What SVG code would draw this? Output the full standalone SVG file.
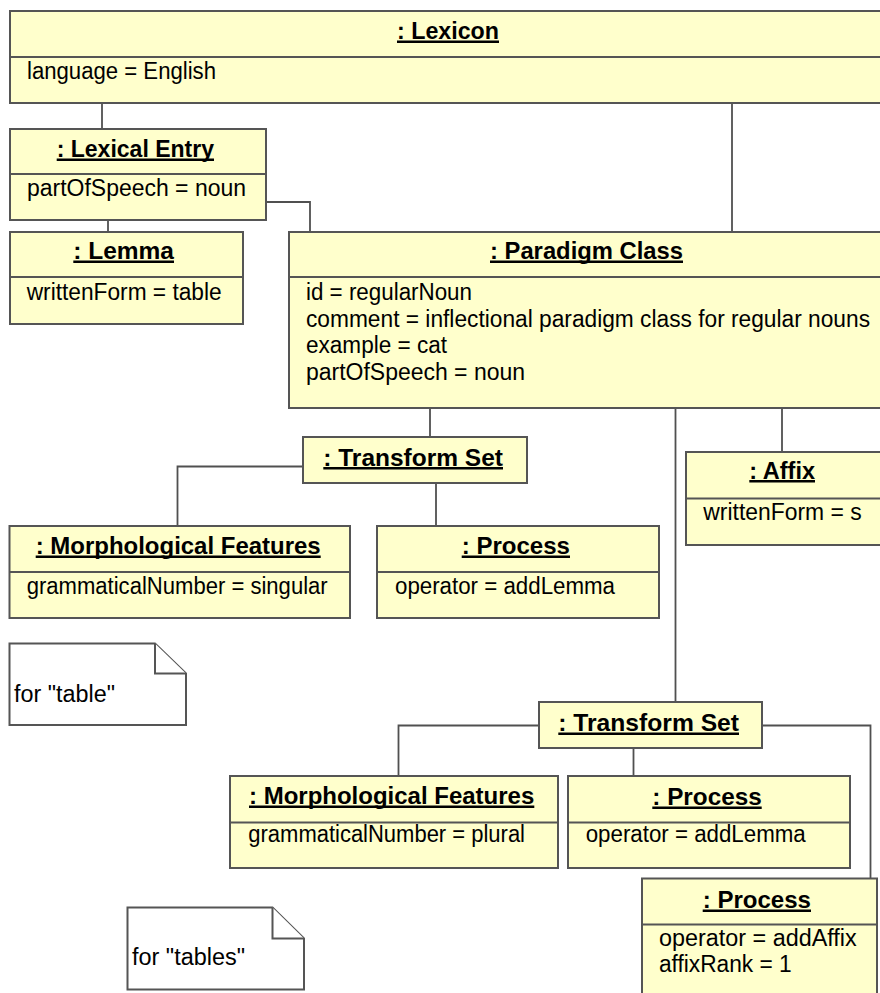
<svg xmlns="http://www.w3.org/2000/svg" width="880" height="993" viewBox="0 0 880 993">
  <style>
    .box { fill: #ffffcc; stroke: #555555; stroke-width: 2; }
    .note { fill: #ffffff; stroke: #555555; stroke-width: 2; stroke-linejoin: miter; }
    .sep { stroke: #555555; stroke-width: 2; }
    .conn { fill: none; stroke: #505050; stroke-width: 1.8; }
    .title { font-family: "Liberation Sans", Arial, sans-serif; font-size: 24px; font-weight: bold; fill: #000000; }
    .attr { font-family: "Liberation Sans", Arial, sans-serif; font-size: 23px; fill: #000000; }
    .ul { fill: #000000; }
  </style>

  <rect width="880" height="993" fill="#ffffff"/>

  <!-- associations between objects -->
  <g id="connectors">
    <path class="conn" d="M102,103 V129"/>
    <path class="conn" d="M732,103 V232"/>
    <path class="conn" d="M108,220 V232"/>
    <path class="conn" d="M266,202 H310 V232"/>
    <path class="conn" d="M430,408 V437"/>
    <path class="conn" d="M675.5,408 V702"/>
    <path class="conn" d="M782,408 V452"/>
    <path class="conn" d="M303,466.5 H177.5 V526"/>
    <path class="conn" d="M436,483 V526"/>
    <path class="conn" d="M539,725.5 H398.5 V776"/>
    <path class="conn" d="M633.5,748 V776"/>
    <path class="conn" d="M762,725.5 H870.5 V878.5"/>
  </g>

  <g id="lexicon">
    <rect class="box" x="10" y="11" width="890" height="92"/>
    <line class="sep" x1="10" y1="57" x2="900" y2="57"/>
    <text class="title" x="397" y="39" textLength="102" lengthAdjust="spacingAndGlyphs">: Lexicon</text>
    <rect class="ul" x="397" y="40.5" width="102" height="2.5"/>
    <text class="attr" x="27" y="79" textLength="189" lengthAdjust="spacingAndGlyphs">language = English</text>
  </g>

  <g id="lexical-entry">
    <rect class="box" x="10" y="129" width="256" height="91"/>
    <line class="sep" x1="10" y1="174" x2="266" y2="174"/>
    <text class="title" x="56.7" y="157" textLength="157.3" lengthAdjust="spacingAndGlyphs">: Lexical Entry</text>
    <rect class="ul" x="56.7" y="158.5" width="157.3" height="2.5"/>
    <text class="attr" x="27" y="196" textLength="219" lengthAdjust="spacingAndGlyphs">partOfSpeech = noun</text>
  </g>

  <g id="lemma">
    <rect class="box" x="10" y="232" width="233" height="92"/>
    <line class="sep" x1="10" y1="277" x2="243" y2="277"/>
    <text class="title" x="73.3" y="259" textLength="100.7" lengthAdjust="spacingAndGlyphs">: Lemma</text>
    <rect class="ul" x="73.3" y="260.5" width="100.7" height="2.5"/>
    <text class="attr" x="26.7" y="300" textLength="195" lengthAdjust="spacingAndGlyphs">writtenForm = table</text>
  </g>

  <g id="paradigm-class">
    <rect class="box" x="289" y="232" width="611" height="176"/>
    <line class="sep" x1="289" y1="277" x2="900" y2="277"/>
    <text class="title" x="490" y="259" textLength="193" lengthAdjust="spacingAndGlyphs">: Paradigm Class</text>
    <rect class="ul" x="490" y="260.5" width="193" height="2.5"/>
    <text class="attr" x="306" y="300" textLength="166" lengthAdjust="spacingAndGlyphs">id = regularNoun</text>
    <text class="attr" x="306" y="326.5" textLength="564" lengthAdjust="spacingAndGlyphs">comment = inflectional paradigm class for regular nouns</text>
    <text class="attr" x="306" y="353" textLength="141" lengthAdjust="spacingAndGlyphs">example = cat</text>
    <text class="attr" x="306" y="379.5" textLength="219" lengthAdjust="spacingAndGlyphs">partOfSpeech = noun</text>
  </g>

  <g id="transform-set-1">
    <rect class="box" x="303" y="437" width="224" height="46"/>
    <text class="title" x="323.3" y="465.5" textLength="179.7" lengthAdjust="spacingAndGlyphs">: Transform Set</text>
    <rect class="ul" x="323.3" y="467" width="179.7" height="2.5"/>
  </g>

  <g id="morph-features-1">
    <rect class="box" x="9.5" y="526" width="340.5" height="92"/>
    <line class="sep" x1="9.5" y1="572" x2="350" y2="572"/>
    <text class="title" x="35.7" y="554" textLength="285" lengthAdjust="spacingAndGlyphs">: Morphological Features</text>
    <rect class="ul" x="35.7" y="555.5" width="285" height="2.5"/>
    <text class="attr" x="26.7" y="593.5" textLength="301" lengthAdjust="spacingAndGlyphs">grammaticalNumber = singular</text>
  </g>

  <g id="process-1">
    <rect class="box" x="377" y="526" width="282" height="92"/>
    <line class="sep" x1="377" y1="572" x2="659" y2="572"/>
    <text class="title" x="461.7" y="554" textLength="108.3" lengthAdjust="spacingAndGlyphs">: Process</text>
    <rect class="ul" x="461.7" y="555.5" width="108.3" height="2.5"/>
    <text class="attr" x="395" y="593.5" textLength="220" lengthAdjust="spacingAndGlyphs">operator = addLemma</text>
  </g>

  <g id="affix">
    <rect class="box" x="686" y="452" width="214" height="93"/>
    <line class="sep" x1="686" y1="498.5" x2="900" y2="498.5"/>
    <text class="title" x="749.3" y="478.5" textLength="65.7" lengthAdjust="spacingAndGlyphs">: Affix</text>
    <rect class="ul" x="749.3" y="480" width="65.7" height="2.5"/>
    <text class="attr" x="703.3" y="519.5" textLength="158.4" lengthAdjust="spacingAndGlyphs">writtenForm = s</text>
  </g>

  <g id="note-table">
    <path class="note" d="M9.5,643.5 H155 L186,673.5 V725 H9.5 Z"/>
    <path class="note" d="M155,643.5 V673.5 H186"/>
    <text class="attr" x="14" y="702" textLength="101" lengthAdjust="spacingAndGlyphs">for "table"</text>
  </g>

  <g id="transform-set-2">
    <rect class="box" x="539" y="702" width="223" height="46"/>
    <text class="title" x="558.3" y="731" textLength="180.7" lengthAdjust="spacingAndGlyphs">: Transform Set</text>
    <rect class="ul" x="558.3" y="732.5" width="180.7" height="2.5"/>
  </g>

  <g id="morph-features-2">
    <rect class="box" x="230" y="776" width="328" height="92"/>
    <line class="sep" x1="230" y1="822.5" x2="558" y2="822.5"/>
    <text class="title" x="249" y="804" textLength="285.3" lengthAdjust="spacingAndGlyphs">: Morphological Features</text>
    <rect class="ul" x="249" y="805.5" width="285.3" height="2.5"/>
    <text class="attr" x="248.3" y="842" textLength="276.7" lengthAdjust="spacingAndGlyphs">grammaticalNumber = plural</text>
  </g>

  <g id="process-2">
    <rect class="box" x="568" y="776" width="282" height="92"/>
    <line class="sep" x1="568" y1="822.5" x2="850" y2="822.5"/>
    <text class="title" x="652.3" y="805" textLength="109.4" lengthAdjust="spacingAndGlyphs">: Process</text>
    <rect class="ul" x="652.3" y="806.5" width="109.4" height="2.5"/>
    <text class="attr" x="585.7" y="842" textLength="220" lengthAdjust="spacingAndGlyphs">operator = addLemma</text>
  </g>

  <g id="process-3">
    <rect class="box" x="642" y="878.5" width="235" height="130"/>
    <line class="sep" x1="642" y1="924.5" x2="877" y2="924.5"/>
    <text class="title" x="702.7" y="908" textLength="108.3" lengthAdjust="spacingAndGlyphs">: Process</text>
    <rect class="ul" x="702.7" y="909.5" width="108.3" height="2.5"/>
    <text class="attr" x="659" y="945.5" textLength="197.7" lengthAdjust="spacingAndGlyphs">operator = addAffix</text>
    <text class="attr" x="659" y="972" textLength="132.7" lengthAdjust="spacingAndGlyphs">affixRank = 1</text>
  </g>

  <g id="note-tables">
    <path class="note" d="M127.5,907.5 H272.5 L304,938.5 V989.5 H127.5 Z"/>
    <path class="note" d="M272.5,907.5 V938.5 H304"/>
    <text class="attr" x="132" y="965" textLength="113" lengthAdjust="spacingAndGlyphs">for "tables"</text>
  </g>
</svg>
